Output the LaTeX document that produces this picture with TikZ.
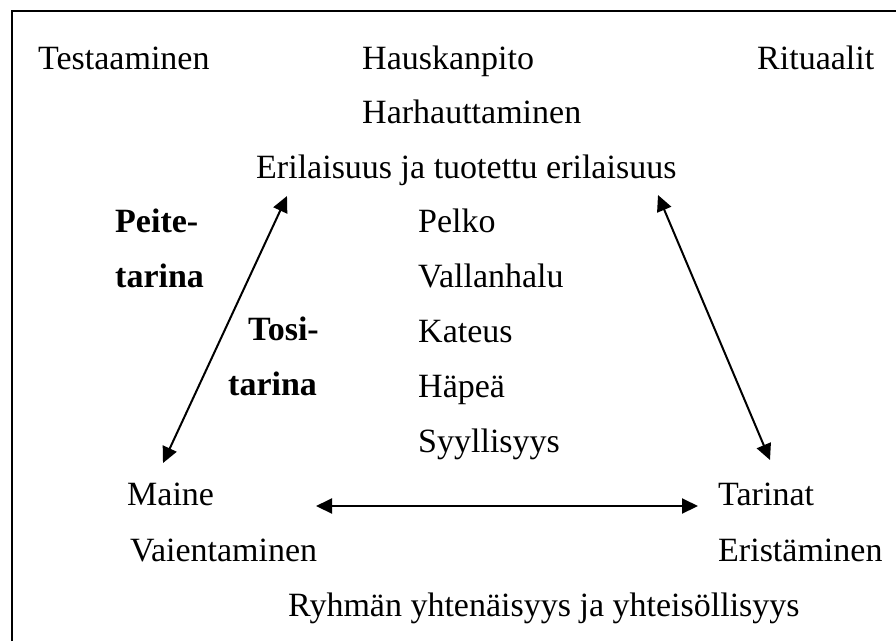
\documentclass[tikz,border=0pt]{standalone}
\usepackage{fontspec}
\setmainfont{Liberation Serif}
\usetikzlibrary{arrows.meta}

\begin{document}
\begin{tikzpicture}[x=1pt,y=-1pt,
		txt/.style={anchor=base west,inner sep=0pt,font=\fontsize{34}{40}\selectfont},
		bold/.style={txt,font=\fontsize{34}{40}\selectfont\bfseries},
		link/.style={{Triangle[length=16pt,width=15pt]}-{Triangle[length=16pt,width=15pt]},line width=2pt}]
		\def\l{55};

		\useasboundingbox (0,0) rectangle (896,641);
		\draw[line width=2pt] (12,641) -- (12,11) -- (896,11);

		% top rows
		\node[txt] (testaaminen) at (38,69) {Testaaminen};
		\node[txt] (hauskanpito) at (362,69) {Hauskanpito};
		\node[txt] (rituaalit) at (757,69) {Rituaalit};
		\node[txt] (harhautus) at (362,123) {Harhauttaminen};
		\node[txt] (erilaisuus) at (256,178) {Erilaisuus ja tuotettu erilaisuus};

		% feelings
		\node[txt] (pelko) at (418,232) {Pelko};
		\node[txt] (valta) at (418,232+\l) {Vallanhalu};
		\node[txt] (kateus) at (418,232+2*\l) {Kateus};
		\node[txt] (hapea) at (418,232+3*\l) {Häpeä};
		\node[txt] (syyllisyys) at (418,232+4*\l) {Syyllisyys};

		\node[bold] (peite) at (115,232) {Peite-};
		\node[bold] (peitetarina) at (115,232+\l) {tarina};
		\node[bold] (tosi) at (248,340) {Tosi-};
		\node[bold] (tositarina) at (228,340+\l) {tarina};

		% bottom rows
		\node[txt] (maine) at (127,505) {Maine};
		\node[txt] (vaientaminen) at (130,561) {Vaientaminen};
		\node[txt] (tarinat) at (718,505) {Tarinat};
		\node[txt] (eristaminen) at (718,561) {Eristäminen};
		\node[txt] (ryhma) at (288,616) {Ryhmän yhtenäisyys ja yhteisöllisyys};

		\coordinate (lt) at (287,196);
		\coordinate (lb) at (163,463);
		\coordinate (rt) at (658,195);
		\coordinate (rb) at (770,460);
		\coordinate (hl) at (316,506);
		\coordinate (hr) at (698,506);

		\draw[link] (lb) -- (lt);
		\draw[link] (rt) -- (rb);
		\draw[link] (hl) -- (hr);
	\end{tikzpicture}
\end{document}
